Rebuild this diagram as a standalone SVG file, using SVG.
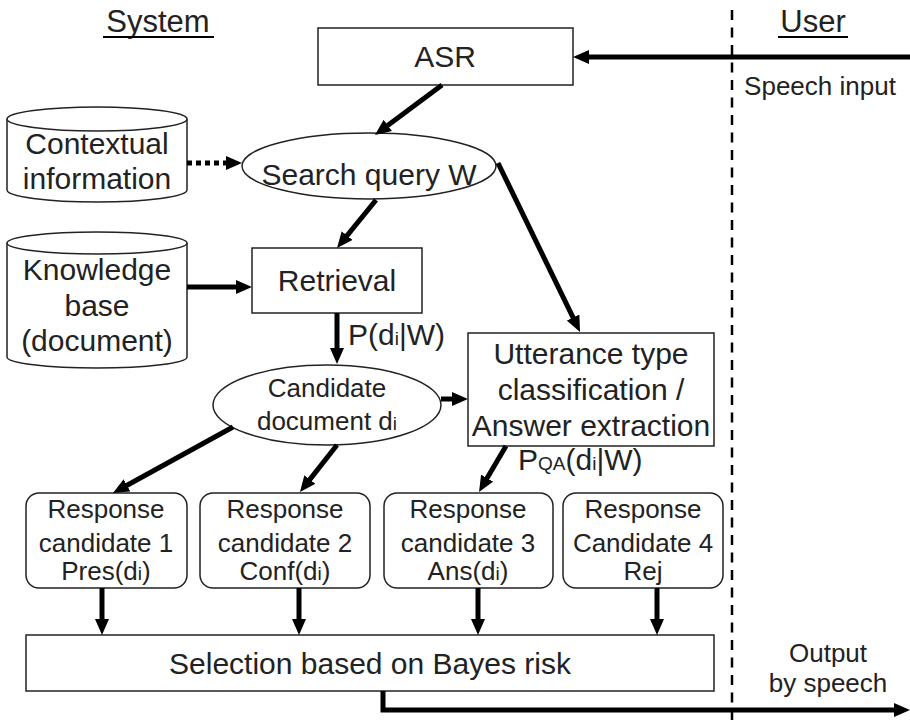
<svg xmlns="http://www.w3.org/2000/svg" width="910" height="722" viewBox="0 0 910 722">
  <style>
    .box { fill: #fff; stroke: #222; stroke-width: 1.5; }
    .t { font-family: "Liberation Sans", Arial, sans-serif; fill: #222; text-anchor: middle; }
    .big { font-size: 30px; }
    .mid { font-size: 26px; }
    .sub { font-size: 19px; }
    .arrow { fill: none; stroke: #000; stroke-width: 5; marker-end: url(#ah); }
    .dotted { stroke-dasharray: 5 4; }
  </style>
  <defs>
    <marker id="ah" viewBox="0 0 16 14" refX="4" refY="7" markerWidth="16" markerHeight="14" markerUnits="userSpaceOnUse" orient="auto">
      <path d="M0,0 L16,7 L0,14 z" fill="#000"/>
    </marker>
  </defs>

  <rect width="910" height="722" fill="#fff"/>

  <!-- lane headings and divider -->
  <g id="lanes">
    <text class="t" x="158" y="32" style="font-size:31px">System</text>
    <line x1="103" y1="37" x2="214" y2="37" stroke="#000" stroke-width="2"/>
    <text class="t" x="813" y="32" style="font-size:31px">User</text>
    <line x1="778" y1="37" x2="848" y2="37" stroke="#000" stroke-width="2"/>
    <line x1="732" y1="10" x2="732" y2="722" stroke="#000" stroke-width="2.5" stroke-dasharray="10 7.5"/>
    <text class="t mid" x="820" y="95">Speech input</text>
    <text class="t mid" x="828" y="662">Output</text>
    <text class="t mid" x="828" y="692">by speech</text>
  </g>

  <g id="asr">
    <rect class="box" x="318" y="28" width="255" height="57"/>
    <text class="t big" x="445" y="67">ASR</text>
  </g>

  <g id="context">
    <path class="box" d="M7,119 V190 A90,12 0 0 0 187,190 V119"/>
    <ellipse class="box" cx="97" cy="119" rx="90" ry="12"/>
    <text class="t big" x="97" y="154">Contextual</text>
    <text class="t big" x="97" y="189">information</text>
  </g>

  <g id="search-query">
    <ellipse class="box" cx="369" cy="166" rx="127" ry="33"/>
    <text class="t big" x="369" y="185">Search query W</text>
  </g>

  <g id="knowledge">
    <path class="box" d="M7,243 V357 A90,11 0 0 0 187,357 V243"/>
    <ellipse class="box" cx="97" cy="243" rx="90" ry="11"/>
    <text class="t big" x="97" y="280">Knowledge</text>
    <text class="t big" x="97" y="316">base</text>
    <text class="t big" x="97" y="351">(document)</text>
  </g>

  <g id="retrieval">
    <rect class="box" x="252" y="248" width="170" height="65"/>
    <text class="t big" x="337" y="291">Retrieval</text>
  </g>

  <g id="candidate-doc">
    <ellipse class="box" cx="327" cy="405" rx="114" ry="40"/>
    <text class="t mid" x="327" y="397">Candidate</text>
    <text class="t mid" x="327" y="430">document  d<tspan class="sub">i</tspan></text>
  </g>

  <g id="utterance">
    <rect class="box" x="468" y="333" width="246" height="113"/>
    <text class="t big" x="591" y="364">Utterance type</text>
    <text class="t big" x="591" y="400">classification /</text>
    <text class="t big" x="591" y="436">Answer extraction</text>
  </g>

  <g id="resp1">
    <rect class="box" x="26" y="493" width="161" height="95" rx="13"/>
    <text class="t mid" x="106" y="518">Response</text>
    <text class="t mid" x="106" y="552">candidate 1</text>
    <text class="t mid" x="106" y="580">Pres(d<tspan class="sub">i</tspan>)</text>
  </g>

  <g id="resp2">
    <rect class="box" x="200" y="493" width="170" height="95" rx="13"/>
    <text class="t mid" x="285" y="518">Response</text>
    <text class="t mid" x="285" y="552">candidate 2</text>
    <text class="t mid" x="285" y="580">Conf(d<tspan class="sub">i</tspan>)</text>
  </g>

  <g id="resp3">
    <rect class="box" x="384" y="493" width="169" height="95" rx="13"/>
    <text class="t mid" x="468" y="518">Response</text>
    <text class="t mid" x="468" y="552">candidate 3</text>
    <text class="t mid" x="468" y="580">Ans(d<tspan class="sub">i</tspan>)</text>
  </g>

  <g id="resp4">
    <rect class="box" x="563" y="493" width="160" height="95" rx="13"/>
    <text class="t mid" x="643" y="518">Response</text>
    <text class="t mid" x="643" y="552">Candidate 4</text>
    <text class="t mid" x="643" y="580">Rej</text>
  </g>

  <g id="selection">
    <rect class="box" x="26" y="635" width="688" height="56"/>
    <text class="t big" x="370" y="674">Selection based on Bayes risk</text>
  </g>

  <!-- connectors -->
  <g id="connectors">
    <line class="arrow" x1="910" y1="57" x2="585" y2="57"/>
    <line class="arrow" x1="442" y1="85" x2="384.6" y2="127.8"/>
    <line class="arrow dotted" x1="187" y1="163" x2="230" y2="163"/>
    <line class="arrow" x1="376" y1="200" x2="344.6" y2="238.7"/>
    <line class="arrow" x1="498" y1="163" x2="574.8" y2="321.2"/>
    <line class="arrow" x1="187" y1="287" x2="240" y2="287"/>
    <line class="arrow" x1="337" y1="313" x2="337" y2="352"/>
    <line class="arrow" x1="441" y1="399" x2="456" y2="399"/>
    <line class="arrow" x1="506" y1="446" x2="485.1" y2="481.6"/>
    <line class="arrow" x1="233" y1="427" x2="123.5" y2="487.2"/>
    <line class="arrow" x1="337" y1="445" x2="307.4" y2="482.6"/>
    <line class="arrow" x1="102" y1="588" x2="102" y2="623"/>
    <line class="arrow" x1="299" y1="588" x2="299" y2="623"/>
    <line class="arrow" x1="478" y1="588" x2="478" y2="623"/>
    <line class="arrow" x1="657" y1="588" x2="657" y2="623"/>
    <path class="arrow" d="M383,691 V710 H898"/>
  </g>

  <g id="labels">
    <text class="t big" x="348" y="345" style="text-anchor:start">P(d<tspan class="sub">i</tspan>|W)</text>
    <text class="t big" x="518" y="470" style="text-anchor:start">P<tspan class="sub">QA</tspan>(d<tspan class="sub">i</tspan>|W)</text>
  </g>
</svg>
